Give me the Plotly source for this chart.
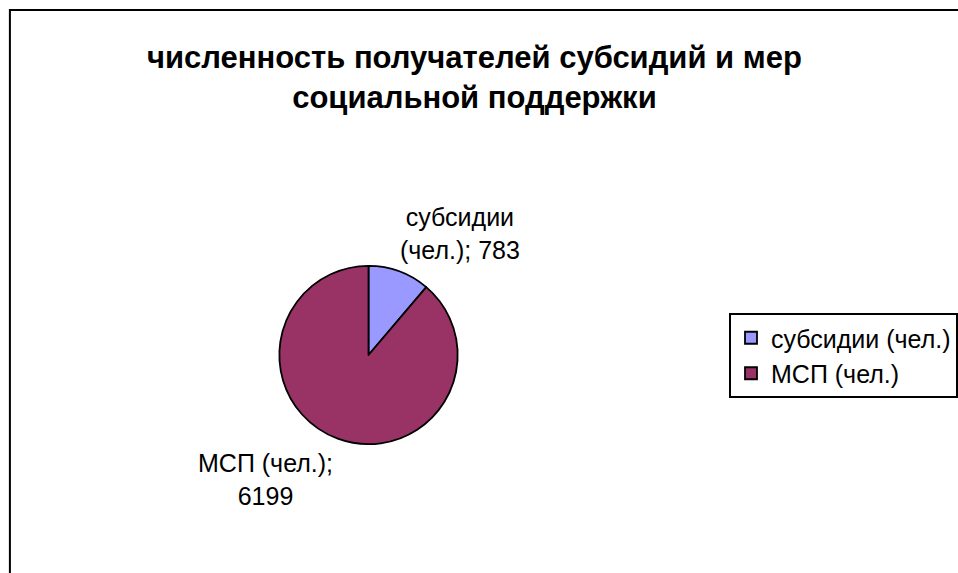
import plotly.graph_objects as go

labels = ["субсидии (чел.)", "МСП (чел.)"]
values = [783, 6199]
colors = ["#9999FF", "#993366"]
title_text = "численность получателей субсидий и мер<br>социальной поддержки"

W, H = 958, 573
cx, cy, r = 372, 355, 90

fig = go.Figure(go.Pie(
    labels=labels, values=values, sort=False, direction="clockwise", rotation=0,
    marker=dict(colors=colors, line=dict(color="black", width=1.8)),
    textinfo="none", hoverinfo="label+value",
    domain=dict(x=[(cx - r) / W, (cx + r) / W], y=[1 - (cy + r) / H, 1 - (cy - r) / H]),
))

font = "Liberation Sans, Arial, sans-serif"
# data labels
fig.add_annotation(x=464 / W, y=1 - 233 / H, xref="paper", yref="paper",
                   xanchor="center", yanchor="middle",
                   text=f"субсидии<br>(чел.); {values[0]}", showarrow=False,
                   font=dict(family=font, size=25, color="black"), align="center")
fig.add_annotation(x=268 / W, y=1 - 479 / H, xref="paper", yref="paper",
                   xanchor="center", yanchor="middle",
                   text=f"МСП (чел.);<br>{values[1]}", showarrow=False,
                   font=dict(family=font, size=25, color="black"), align="center")
# title
fig.add_annotation(x=479 / W, y=1 - 77 / H, xref="paper", yref="paper",
                   xanchor="center", yanchor="middle",
                   text=f"<b>{title_text}</b>", showarrow=False,
                   font=dict(family=font, size=31, color="black"), align="center")
# chart border
fig.add_shape(type="rect", xref="paper", yref="paper",
              x0=10 / W, x1=1.1, y0=-0.1, y1=1 - 10 / H,
              line=dict(color="black", width=2), fillcolor="rgba(0,0,0,0)")

fig.update_layout(
    width=W, height=H, margin=dict(l=0, r=0, t=0, b=0),
    paper_bgcolor="white", plot_bgcolor="white",
    showlegend=True,
    legend=dict(x=736 / W, y=1 - 313 / H, xanchor="left", yanchor="top",
                bordercolor="black", borderwidth=2, bgcolor="white",
                font=dict(family=font, size=25, color="black"),
                itemwidth=30, tracegroupgap=0),
)
fig.write_html("out.html", config={"displayModeBar": False})

with open("out.html", encoding="utf-8") as f:
    html = f.read()
html = html.replace("<head>", "<head><style>html,body{margin:0;padding:0;overflow:hidden;}</style>", 1)
with open("out.html", "w", encoding="utf-8") as f:
    f.write(html)
